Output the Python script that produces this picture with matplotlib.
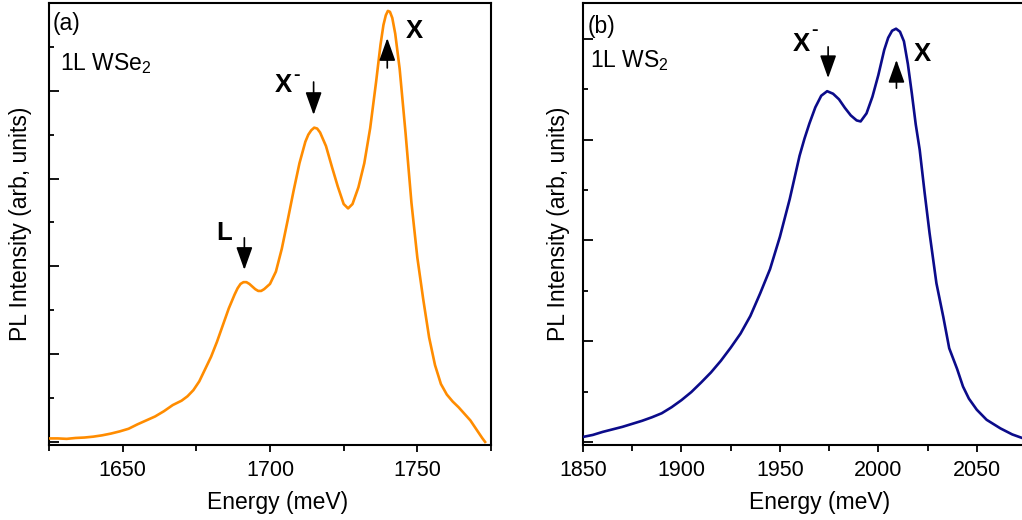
import matplotlib
matplotlib.use("Agg")
import matplotlib.pyplot as plt
from matplotlib.ticker import MultipleLocator, NullFormatter

plt.rcParams["font.family"] = ["Liberation Sans", "DejaVu Sans"]
plt.rcParams["mathtext.fontset"] = "custom"
plt.rcParams["mathtext.rm"] = "Liberation Sans"
plt.rcParams["mathtext.it"] = "Liberation Sans:italic"
plt.rcParams["mathtext.bf"] = "Liberation Sans:bold"
plt.rcParams["mathtext.default"] = "regular"

# PL spectrum of monolayer WSe2 (energy in meV, intensity in arb. units)
energy_wse2 = [1625, 1628, 1631, 1634, 1637, 1640, 1643, 1646, 1649, 1652,
               1655, 1658, 1661, 1664, 1667, 1670, 1672, 1674, 1676, 1678,
               1680, 1682, 1684, 1686, 1688, 1689, 1690, 1691, 1692, 1693,
               1694, 1695, 1696, 1697, 1698, 1700, 1702, 1704, 1706, 1708,
               1710, 1712, 1713, 1714, 1715, 1716, 1717, 1719, 1721, 1723,
               1725, 1726.5, 1728, 1730, 1732, 1734, 1736, 1737.5, 1738.5,
               1739.3, 1740, 1740.7, 1741.5, 1742.5, 1744, 1746, 1748, 1750,
               1752, 1754, 1756, 1758, 1760, 1762, 1764, 1766, 1768, 1770,
               1772, 1773]
intensity_wse2 = [0.08, 0.08, 0.07, 0.09, 0.10, 0.12, 0.15, 0.19, 0.24, 0.30,
                  0.40, 0.49, 0.58, 0.70, 0.84, 0.94, 1.04, 1.18, 1.38, 1.66,
                  1.94, 2.28, 2.66, 3.04, 3.36, 3.50, 3.60, 3.64, 3.64, 3.60,
                  3.54, 3.48, 3.44, 3.44, 3.48, 3.60, 3.88, 4.40, 5.05, 5.72,
                  6.35, 6.84, 7.00, 7.10, 7.16, 7.14, 7.05, 6.74, 6.27, 5.82,
                  5.42, 5.32, 5.42, 5.80, 6.35, 7.15, 8.20, 9.05, 9.50,
                  9.72, 9.82, 9.80, 9.66, 9.30, 8.50, 7.04, 5.45, 4.20,
                  3.25, 2.38, 1.75, 1.32, 1.08, 0.92, 0.79, 0.64, 0.49, 0.29,
                  0.09, 0.0]

# PL spectrum of monolayer WS2
energy_ws2 = [1850, 1855, 1860, 1865, 1870, 1875, 1880, 1885, 1890, 1895,
              1900, 1905, 1910, 1915, 1920, 1925, 1930, 1935, 1940, 1945,
              1950, 1955, 1957.5, 1960, 1962.5, 1965, 1968, 1971, 1974, 1977,
              1980, 1983, 1986, 1989, 1991, 1994, 1997, 2000, 2003, 2005,
              2007, 2009, 2011, 2013, 2015, 2017, 2019, 2021, 2023.5, 2026,
              2029.5, 2033, 2036, 2040, 2043, 2046, 2050, 2055, 2062, 2068,
              2073, 2075]
intensity_ws2 = [0.10, 0.14, 0.20, 0.25, 0.30, 0.36, 0.42, 0.49, 0.57, 0.69,
                 0.83, 0.99, 1.18, 1.38, 1.61, 1.87, 2.15, 2.50, 2.95, 3.43,
                 4.07, 4.82, 5.25, 5.68, 6.02, 6.32, 6.64, 6.87, 6.96, 6.91,
                 6.80, 6.63, 6.48, 6.38, 6.36, 6.52, 6.85, 7.28, 7.78, 8.02,
                 8.16, 8.20, 8.14, 7.95, 7.50, 6.92, 6.30, 5.80, 4.95, 4.15,
                 3.15, 2.48, 1.86, 1.45, 1.10, 0.86, 0.64, 0.44, 0.27, 0.15,
                 0.08, 0.07]

# Peak markers: (label, arrow x, arrow tail y, arrow tip y, text x, text y)
peaks_wse2 = [("L", 1691.3, 4.65, 3.92, 1684.6, 4.77),
              ("X-", 1714.8, 8.20, 7.45, 1704.5, 8.13),
              ("X", 1739.8, 8.52, 9.20, 1749.1, 9.37)]
peaks_ws2 = [("X-", 1974.5, 7.84, 7.22, 1960.7, 7.90),
             ("X", 2009.2, 7.02, 7.58, 2022.5, 7.70)]

fig = plt.figure(figsize=(10.22, 5.20), dpi=100)
ax_a = fig.add_axes([49 / 1022, 75 / 520, 442 / 1022, 442 / 520])
ax_b = fig.add_axes([583 / 1022, 75 / 520, 443 / 1022, 442 / 520])


def style_axes(ax, xlim, ylim, xmajor, label_x, ylabel_x):
    ax.set_xlim(*xlim)
    ax.set_ylim(*ylim)
    ax.xaxis.set_major_locator(MultipleLocator(xmajor))
    ax.xaxis.set_minor_locator(MultipleLocator(xmajor / 2))
    ax.yaxis.set_major_locator(MultipleLocator(2))
    ax.yaxis.set_minor_locator(MultipleLocator(1))
    ax.yaxis.set_major_formatter(NullFormatter())
    ax.tick_params(axis="x", which="major", direction="out", length=5,
                   width=1.3, pad=6, labelsize=15.5)
    ax.tick_params(axis="x", which="minor", direction="out", length=4,
                   width=1.3)
    ax.tick_params(axis="y", which="major", direction="in", length=7,
                   width=1.3)
    ax.tick_params(axis="y", which="minor", direction="in", length=3.5,
                   width=1.3)
    for sp in ax.spines.values():
        sp.set_linewidth(1.5)
    ax.set_xlabel("Energy (meV)", fontsize=16.5)
    ax.xaxis.set_label_coords(label_x, -0.105)
    ax.set_ylabel("PL Intensity (arb, units)", fontsize=16.5)
    ax.yaxis.set_label_coords(ylabel_x, 0.5)


def mark_peaks(ax, peaks, dash_offset):
    for label, ax_x, tail, tip, tx, ty in peaks:
        ax.annotate("", xy=(ax_x, tip), xytext=(ax_x, tail),
                    arrowprops=dict(arrowstyle="-|>,head_length=1.4,head_width=0.5",
                                    mutation_scale=10, color="black", lw=1.2,
                                    shrinkA=0, shrinkB=0),
                    zorder=5)
        ax.text(tx, ty, "X" if label.startswith("X") else label,
                fontsize=18.5, fontweight="bold", ha="center", va="center",
                zorder=5)
        if label.endswith("-"):
            ax.annotate("-", xy=(tx, ty), xytext=dash_offset,
                        textcoords="offset points", fontsize=14,
                        fontweight="bold", ha="center", va="center")


ax_a.plot(energy_wse2, intensity_wse2, color="#ff8c00", lw=1.9, zorder=3)
style_axes(ax_a, (1625, 1775), (-0.07, 10.0), 50, 0.516, -0.038)
mark_peaks(ax_a, peaks_wse2, (9.5, 6.8))
ax_a.text(0.008, 0.98, "(a)", transform=ax_a.transAxes, fontsize=16.5,
          ha="left", va="top")
ax_a.text(0.025, 0.848, "1L WSe$_2$", transform=ax_a.transAxes, fontsize=16.5,
          ha="left", va="baseline")

ax_b.plot(energy_ws2, intensity_ws2, color="#0b0b8a", lw=1.9, zorder=3)
style_axes(ax_b, (1850, 2075), (-0.06, 8.71), 50, 0.533, -0.029)
mark_peaks(ax_b, peaks_ws2, (10, 9.6))
ax_b.text(0.011, 0.972, "(b)", transform=ax_b.transAxes, fontsize=16.5,
          ha="left", va="top")
ax_b.text(0.016, 0.856, "1L WS$_2$", transform=ax_b.transAxes, fontsize=16.5,
          ha="left", va="baseline")

fig.savefig("out.png", dpi=100)
